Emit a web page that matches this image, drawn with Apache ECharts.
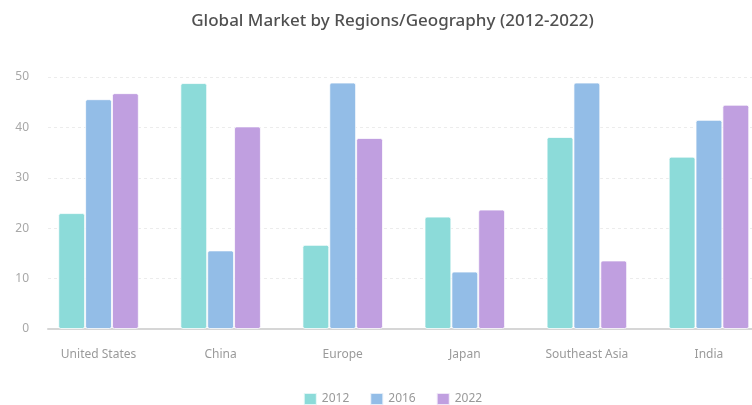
<!DOCTYPE html>
<html>
<head>
<meta charset="utf-8">
<script src="https://cdn.jsdelivr.net/npm/echarts@6/dist/echarts.min.js"></script>
<style>
html,body{margin:0;padding:0;background:#fff;overflow:hidden;}
#wrap{width:752px;height:405px;overflow:hidden;position:relative;}
#chart{width:785px;height:405px;position:absolute;left:0;top:0;}
</style>
</head>
<body>
<div id="wrap"><div id="chart"></div></div>
<script>
var categories = ['United States', 'China', 'Europe', 'Japan', 'Southeast Asia', 'India'];
var seriesNames = ['2012', '2016', '2022'];
var values2012 = [23.0, 48.8, 16.7, 22.3, 38.1, 34.2];
var values2016 = [45.6, 15.6, 48.9, 11.4, 48.9, 41.5];
var values2022 = [46.8, 40.2, 37.9, 23.7, 13.6, 44.5];
var colors = ['#8cdbd9', '#93bde7', '#c09fe0'];
var yTicks = [0, 10, 20, 30, 40, 50];

var chart = echarts.init(document.getElementById('chart'), null, {renderer: 'canvas'});
var fontFam = 'Noto Sans, sans-serif';
function mk(name, data, i) {
  return {
    name: name, type: 'bar', xAxisIndex: 1, yAxisIndex: 1,
    data: data,
    barGap: '0%', barCategoryGap: '34%',
    itemStyle: {color: colors[i], borderColor: 'rgba(255,255,255,0.75)', borderWidth: 1, borderRadius: 2}
  };
}
chart.setOption({
  animation: false,
  color: colors,
  title: {
    text: 'Global Market by Regions/Geography (2012-2022)',
    left: 'center', top: 8,
    textStyle: {fontFamily: fontFam, fontSize: 17, fontWeight: 500, color: '#505050'}
  },
  legend: {
    top: 387, left: 'center', itemWidth: 13, itemHeight: 12, itemGap: 20,
    icon: 'rect',
    textStyle: {fontFamily: fontFam, fontSize: 12, color: '#999'},
    data: seriesNames
  },
  grid: [
    {left: 48, right: 15, top: 77, bottom: 76},
    {left: 37.5, right: 15, top: 77, bottom: 76}
  ],
  xAxis: [
    {type: 'category', gridIndex: 0, data: categories,
     axisLine: {show: true, lineStyle: {color: '#d6d6d6', width: 2}},
     axisTick: {show: false}, axisLabel: {show: false}, splitLine: {show: false}},
    {type: 'category', gridIndex: 1, data: categories,
     axisLine: {show: false}, axisTick: {show: false},
     axisLabel: {margin: 20, color: '#9a9a9a', fontFamily: fontFam, fontSize: 12}}
  ],
  yAxis: [
    {type: 'value', gridIndex: 0, min: yTicks[0], max: yTicks[yTicks.length - 1], interval: 10,
     axisLine: {show: false}, axisTick: {show: false},
     axisLabel: {margin: 19, color: '#a8a8a8', fontFamily: fontFam, fontSize: 12},
     splitLine: {show: true, lineStyle: {color: '#ececec', type: [3, 3]}}},
    {type: 'value', gridIndex: 1, min: yTicks[0], max: yTicks[yTicks.length - 1], interval: 10,
     show: false}
  ],
  series: [
    mk(seriesNames[0], values2012, 0),
    mk(seriesNames[1], values2016, 1),
    mk(seriesNames[2], values2022, 2)
  ]
});
</script>
</body>
</html>
